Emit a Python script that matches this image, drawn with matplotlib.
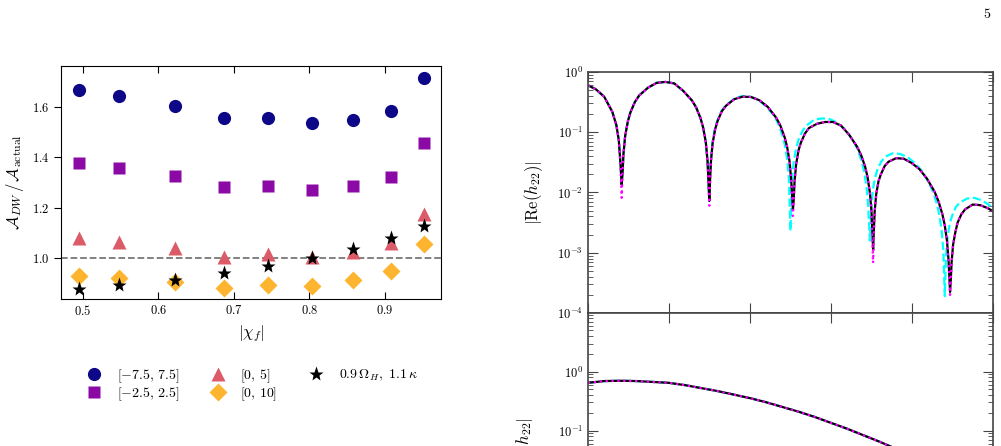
import numpy as np
import matplotlib
matplotlib.use('Agg')
import matplotlib.pyplot as plt
from matplotlib.lines import Line2D
from matplotlib.ticker import LogLocator, NullFormatter, FuncFormatter

plt.rcParams['mathtext.fontset'] = 'cm'
plt.rcParams['font.family'] = 'serif'
plt.rcParams['font.serif'] = ['cmr10', 'DejaVu Serif']
plt.rcParams['axes.formatter.use_mathtext'] = True

# linkes Panel: A_DW / A_actual ueber |chi_f|
chi_f = [0.495, 0.548, 0.622, 0.687, 0.745, 0.803, 0.858, 0.908, 0.952]
ratio_75 = [1.665, 1.641, 1.603, 1.555, 1.556, 1.535, 1.549, 1.583, 1.715]
ratio_25 = [1.379, 1.359, 1.327, 1.281, 1.288, 1.270, 1.286, 1.322, 1.456]
ratio_05 = [1.079, 1.063, 1.040, 1.006, 1.017, 1.006, 1.026, 1.062, 1.175]
ratio_010 = [0.929, 0.922, 0.905, 0.882, 0.894, 0.892, 0.914, 0.951, 1.057]
ratio_star = [0.878, 0.893, 0.915, 0.942, 0.968, 1.001, 1.037, 1.079, 1.128]
labels = [r'$[-7.5,\, 7.5]$', r'$[-2.5,\, 2.5]$', r'$[0,\, 5]$', r'$[0,\, 10]$',
          r'$0.9\,\Omega_H,\ 1.1\,\kappa$']

# rechtes Panel oben: log10 |Re(h22)|
t_black = [0, 1, 2, 3, 3.5, 3.8, 4.0, 4.16,
           4.27, 4.38, 4.59, 4.92, 5.24, 5.78, 6.32, 7.41, 8.49, 9.57, 10.65,
           11.73, 12.82, 13.36, 13.90, 14.23, 14.55, 14.76, 14.98,
           15.08, 15.19, 15.39, 15.70, 16.01, 16.53, 17.04, 18.08, 19.11, 20.14,
           21.17, 22.20, 23.24, 23.75, 24.27, 24.58, 24.89, 25.09, 25.3,
           25.40, 25.50, 25.70, 25.99, 26.29, 26.79, 27.28, 28.27, 29.26, 30.25,
           31.24, 32.23, 33.22, 33.72, 34.21, 34.51, 34.80, 35.00, 35.2,
           35.30, 35.39, 35.58, 35.87, 36.15, 36.63, 37.10, 38.05, 39.0, 39.95,
           40.90, 41.85, 42.80, 43.28, 43.75, 44.04, 44.32, 44.51, 44.7,
           44.79, 44.89, 45.07, 45.35, 45.63, 46.10, 46.56, 47.49, 48.42, 49.35, 50.0]
re_black = [-0.22, -0.29, -0.41, -0.66, -0.88, -1.13, -1.50, -1.87,
            -1.66, -1.36, -1.06, -0.82, -0.67, -0.50, -0.39, -0.26, -0.18, -0.165, -0.19,
            -0.31, -0.47, -0.59, -0.77, -0.93, -1.17, -1.48, -2.14,
            -1.77, -1.47, -1.18, -0.95, -0.81, -0.65, -0.56, -0.45, -0.41, -0.415,
            -0.47, -0.58, -0.76, -0.89, -1.08, -1.24, -1.49, -1.80, -2.28,
            -2.12, -1.82, -1.53, -1.30, -1.17, -1.02, -0.93, -0.86, -0.83, -0.83,
            -0.89, -1.04, -1.24, -1.38, -1.57, -1.74, -2.00, -2.31, -2.95,
            -2.61, -2.32, -2.03, -1.81, -1.70, -1.56, -1.49, -1.43, -1.44, -1.51,
            -1.61, -1.77, -1.99, -2.15, -2.36, -2.54, -2.80, -3.12, -3.65,
            -3.45, -3.16, -2.87, -2.66, -2.50, -2.36, -2.28, -2.20, -2.21, -2.26, -2.31]
dip_t = [4.16, 14.98, 25.3, 35.2, 44.7]
dip_magenta = [-2.09, -2.22, -2.39, -3.17, -3.70]

t_cyan_late = [15.05, 15.15, 15.35, 15.65, 15.96, 16.46, 16.96, 17.97, 18.97, 19.98,
               20.98, 21.99, 22.99, 23.49, 24.0, 24.30, 24.60, 24.80, 25.0,
               25.10, 25.20, 25.39, 25.69, 25.98, 26.47, 26.96, 27.94, 28.92, 29.9,
               30.88, 31.86, 32.84, 33.33, 33.82, 34.11, 34.41, 34.60, 34.8,
               34.89, 34.99, 35.17, 35.45, 35.73, 36.19, 36.65, 37.58, 38.50, 39.43,
               40.35, 41.28, 42.20, 42.66, 43.13, 43.40, 43.68, 43.87, 44.05,
               44.14, 44.23, 44.42, 44.69, 44.97, 45.42, 45.88, 46.8, 47.71, 48.63, 50.0]
re_cyan_late = [-1.77, -1.47, -1.18, -0.95, -0.81, -0.65, -0.56, -0.45, -0.40, -0.41,
                -0.46, -0.57, -0.73, -0.86, -1.05, -1.21, -1.46, -1.77, -2.64,
                -2.08, -1.79, -1.50, -1.27, -1.13, -0.98, -0.89, -0.79, -0.77, -0.785,
                -0.85, -0.97, -1.16, -1.30, -1.50, -1.67, -1.93, -2.24, -2.80,
                -2.54, -2.25, -1.96, -1.75, -1.62, -1.49, -1.41, -1.35, -1.36, -1.41,
                -1.51, -1.65, -1.87, -2.01, -2.22, -2.39, -2.65, -2.97, -3.72,
                -3.29, -3.00, -2.71, -2.50, -2.38, -2.24, -2.17, -2.10, -2.09, -2.13, -2.25]

# rechtes Panel unten: log10 |h22|
t_amp = [0, 2, 4, 6, 8, 10, 12, 14, 16, 18, 20, 22, 24, 26, 28, 30, 32, 34, 36, 38, 40, 45, 50]
amp = [-0.19, -0.16, -0.155, -0.16, -0.175, -0.19, -0.23, -0.28, -0.33, -0.39, -0.45,
       -0.52, -0.60, -0.68, -0.77, -0.87, -0.97, -1.08, -1.19, -1.31, -1.44, -1.80, -2.20]

colors = ['#0d0887', '#8b0aa5', '#db5c68', '#fdb42f', 'black']
markers = ['o', 's', '^', 'D', '*']
msizes = [9.5, 9, 10, 9.5, 11]

fig = plt.figure(figsize=(10.01, 4.46), dpi=100)

# --- linkes Panel
ax = fig.add_axes([0.0609, 0.3296, 0.3796, 0.5224])
ax.axhline(1.0, color='#777777', ls='--', lw=1.3, zorder=1)
for y, c, m, s in zip([ratio_75, ratio_25, ratio_05, ratio_010, ratio_star], colors, markers, msizes):
    ax.plot(chi_f, y, ls='none', marker=m, ms=s, color=c, mec='none', zorder=3)
ax.set_xlim(0.471, 0.974)
ax.set_ylim(0.839, 1.761)
ax.set_xticks([0.5, 0.6, 0.7, 0.8, 0.9])
ax.set_yticks([1.0, 1.2, 1.4, 1.6])
ax.tick_params(axis='x', direction='in', top=True, length=5, labelsize=9)
ax.tick_params(axis='y', direction='out', length=5, labelsize=9)
ax.set_xlabel(r'$|\chi_f|$', fontsize=12, labelpad=4)
ax.set_ylabel(r'$\mathcal{A}_{DW}\,/\,\mathcal{A}_{\rm actual}$', fontsize=12, labelpad=4)

handles = [Line2D([], [], ls='none', marker=m, ms=s, color=c, mec='none')
           for c, m, s in zip(colors, markers, msizes)]
fig.legend(handles, labels, ncol=3, loc='upper left', bbox_to_anchor=(0.0744, 0.205),
           frameon=False, fontsize=10, handlelength=1.0, handletextpad=1.15,
           columnspacing=2.25, labelspacing=0.05, borderpad=0.4)

# --- rechtes Panel
t_cyan = t_black[:27] + t_cyan_late
re_cyan = re_black[:27] + re_cyan_late
re_magenta = list(re_black)
for td, v in zip(dip_t, dip_magenta):
    re_magenta[t_black.index(td)] = v

ax1 = fig.add_axes([0.5874, 0.2982, 0.4046, 0.5404])
ax2 = fig.add_axes([0.5874, -0.2422, 0.4046, 0.5404])

ax1.plot(t_cyan, 10**np.array(re_cyan), color='cyan', ls='--', lw=1.6)
ax1.plot(t_black, 10**np.array(re_black), color='black', lw=1.6)
ax1.plot(t_black, 10**np.array(re_magenta), color='magenta', ls=':', lw=1.6)

ax2.plot(t_amp, 10**np.array(amp), color='cyan', ls='--', lw=1.6)
ax2.plot(t_amp, 10**np.array(amp), color='black', lw=1.6)
ax2.plot(t_amp, 10**np.array(amp), color='magenta', ls=':', lw=1.6)

log_fmt = FuncFormatter(lambda v, p: r'$10^{%d}$' % int(round(np.log10(v))))
for a in (ax1, ax2):
    a.set_yscale('log')
    a.set_xlim(0, 50)
    a.set_xticks([0, 10, 20, 30, 40, 50])
    a.yaxis.set_major_locator(LogLocator(base=10, numticks=12))
    a.yaxis.set_major_formatter(log_fmt)
    a.yaxis.set_minor_locator(LogLocator(base=10, subs=np.arange(2, 10), numticks=12))
    a.yaxis.set_minor_formatter(NullFormatter())
    a.tick_params(which='both', direction='in', top=True, right=True, labelsize=9,
                  color='#444444', labelbottom=False)
    a.tick_params(which='major', length=7)
    a.tick_params(which='minor', length=3.5)
    for sp in a.spines.values():
        sp.set_color('#444444')
        sp.set_linewidth(1.2)
ax1.set_ylim(1e-4, 1e0)
ax2.set_ylim(8e-4, 9.9e0)
ax1.set_ylabel(r'$|{\rm Re}(h_{22})|$', fontsize=12, labelpad=9)
ax2.set_ylabel(r'$|h_{22}|$', fontsize=12, labelpad=16)

fig.text(0.986, 0.966, '5', fontsize=10, ha='center', va='center')

fig.savefig('out.png', dpi=100)
